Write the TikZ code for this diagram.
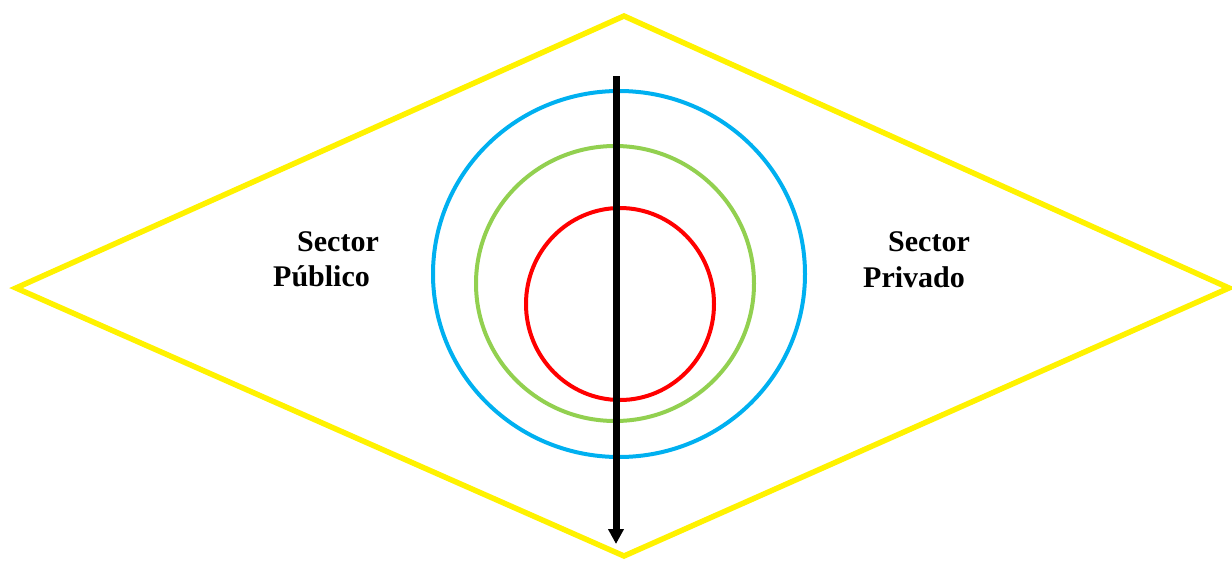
\documentclass[tikz,border=0pt]{standalone}
\usepackage{fontspec}
\setmainfont{Liberation Serif}
\usetikzlibrary{arrows.meta}
\begin{document}
\begin{tikzpicture}[x=1pt,y=-1pt,
  lbl/.style={font=\fontsize{30}{36}\selectfont\bfseries, inner sep=0pt, anchor=base west},
  ring/.style={line width=4pt}]
\useasboundingbox (0,0) rectangle (1232,560);
\definecolor{yel}{RGB}{255,242,0}
\definecolor{cblue}{RGB}{0,176,240}
\definecolor{cgreen}{RGB}{146,208,80}
\definecolor{cred}{RGB}{255,0,0}
\coordinate (T) at (624,16);
\coordinate (L) at (16,288);
\coordinate (B) at (624,556);
\coordinate (R) at (1229,288);
\draw[yel, line width=5.5pt, line join=miter] (T) -- (R) -- (B) -- (L) -- cycle;
\draw[ring, cblue] (619,274) ellipse [x radius=186, y radius=183];
\draw[ring, cgreen] (615,283.5) ellipse [x radius=139, y radius=137.5];
\draw[ring, cred] (620,304) ellipse [x radius=94, y radius=96];
\coordinate (A1) at (616,76);
\coordinate (A2) at (616,544);
\draw[line width=7pt, -{Triangle[length=15pt,width=15pt]}] (A1) -- (A2);
\node[lbl] (s1) at (297,251) {Sector};
\node[lbl] (p1) at (273,286) {Público};
\node[lbl] (s2) at (888,251) {Sector};
\node[lbl] (p2) at (863,287) {Privado};
\end{tikzpicture}
\end{document}
